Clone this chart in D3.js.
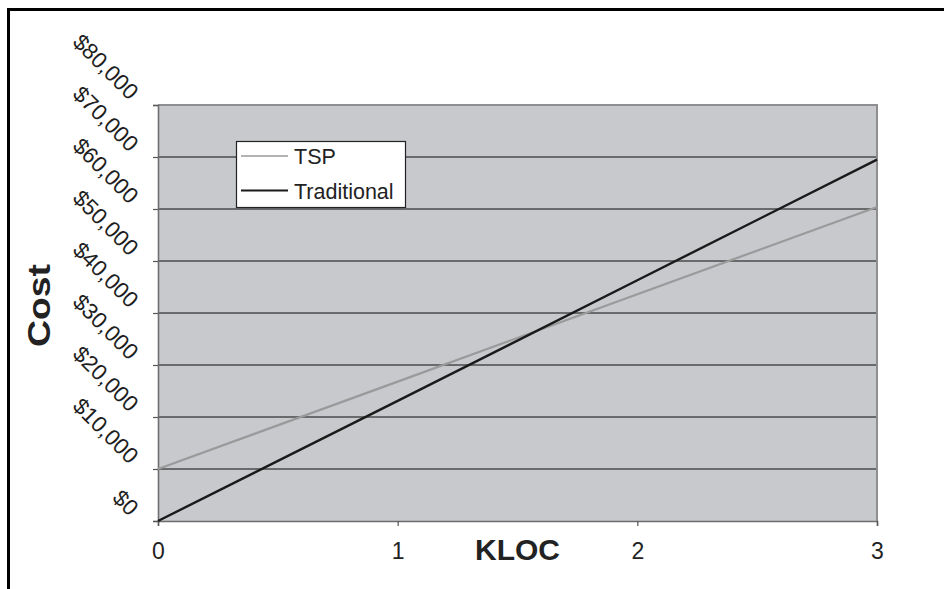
<!DOCTYPE html>
<html><head><meta charset="utf-8">
<script src="https://cdn.jsdelivr.net/npm/d3@7"></script>
<style>body{margin:0;background:#fff}svg{display:block}text{font-family:"Liberation Sans",Arial,sans-serif}</style>
</head><body><svg id="c" width="944" height="589"></svg>
<script>
const kloc = [0, 1, 2, 3];
const tspCost = [10000, 26800, 43600, 60400];
const traditionalCost = [0, 23100, 46300, 69500];
const yTicks = [0, 10000, 20000, 30000, 40000, 50000, 60000, 70000, 80000];
const xTicks = [0, 1, 2, 3];
const seriesNames = ["TSP", "Traditional"];

const svg = d3.select("#c");
const x = d3.scaleLinear().domain([0, 3]).range([158, 877]);
const y = d3.scaleLinear().domain([0, 80000]).range([521, 105]);

// outer frame
svg.append("path").attr("d", "M8.5,600 L8.5,9.5 L950,9.5").attr("fill", "none").attr("stroke", "#000").attr("stroke-width", 3);

// plot background
svg.append("rect").attr("x", x(0)).attr("y", y(80000)).attr("width", x(3) - x(0)).attr("height", y(0) - y(80000)).attr("fill", "#c8c9cd");

// gridlines
svg.append("g").selectAll("line").data(yTicks.slice(1, -1)).join("line")
  .attr("x1", x(0)).attr("x2", x(3)).attr("y1", d => y(d)).attr("y2", d => y(d))
  .attr("stroke", "#4a4a4a").attr("stroke-width", 1.4);

// plot border top/right
svg.append("path").attr("d", `M${x(0)},${y(80000)} L${x(3)},${y(80000)} L${x(3)},${y(0)}`)
  .attr("fill", "none").attr("stroke", "#8e8e90").attr("stroke-width", 2);

// axes
const yAxis = d3.axisLeft(y).tickValues(yTicks).tickSize(5).tickFormat("");
const gy = svg.append("g").attr("transform", `translate(${x(0)},0)`).call(yAxis);
gy.select(".domain").attr("stroke", "#6e6e70").attr("stroke-width", 1.6);
gy.selectAll(".tick line").attr("stroke", "#555").attr("stroke-width", 1.2);

const xAxis = d3.axisBottom(x).tickValues(xTicks).tickSize(5).tickFormat(d3.format("d"));
const gx = svg.append("g").attr("transform", `translate(0,${y(0)})`).call(xAxis);
gx.select(".domain").attr("stroke", "#6e6e70").attr("stroke-width", 1.6);
gx.selectAll(".tick line").attr("stroke", "#555").attr("stroke-width", 1.2);
gx.selectAll(".tick text").attr("font-size", 23).attr("fill", "#222").attr("y", 38).attr("dy", 0)
  .style("font-family", "'Liberation Sans',Arial,sans-serif");

// y labels rotated
const fmt = d => "$" + d3.format(",")(d);
svg.append("g").selectAll("text").data(yTicks).join("text")
  .attr("transform", d => `translate(${x(0) - 29},${y(d) - 4}) rotate(45)`)
  .attr("text-anchor", "end").attr("font-size", 22.5).attr("fill", "#1e1e1e")
  .text(fmt);

// lines
const line = d3.line().x((d, i) => x(kloc[i])).y(d => y(d));
svg.append("path").datum(tspCost).attr("d", line).attr("fill", "none").attr("stroke", "#9a9a9a").attr("stroke-width", 2.2);
svg.append("path").datum(traditionalCost).attr("d", line).attr("fill", "none").attr("stroke", "#1a1a1a").attr("stroke-width", 2.4);

// legend
const lg = svg.append("g");
lg.append("rect").attr("x", 236.5).attr("y", 141.5).attr("width", 169).attr("height", 66).attr("fill", "#fff").attr("stroke", "#222").attr("stroke-width", 1.2);
const legColors = ["#9a9a9a", "#1a1a1a"];
seriesNames.forEach((n, i) => {
  const ly = 156 + i * 34.5;
  lg.append("line").attr("x1", 241).attr("x2", 288).attr("y1", ly).attr("y2", ly).attr("stroke", legColors[i]).attr("stroke-width", i ? 2 : 1.6);
  lg.append("text").attr("x", 294).attr("y", ly + 8).attr("font-size", 21.5).attr("fill", "#222").text(n);
});

// axis titles
svg.append("text").attr("x", 475).attr("y", 560).attr("font-size", 30).attr("font-weight", "bold").attr("fill", "#222").text("KLOC");
svg.append("text").attr("transform", "translate(50,347) rotate(-90)").attr("font-size", 31).attr("font-weight", "bold").attr("fill", "#222")
  .attr("textLength", 83).attr("lengthAdjust", "spacingAndGlyphs").text("Cost");
</script></body></html>
